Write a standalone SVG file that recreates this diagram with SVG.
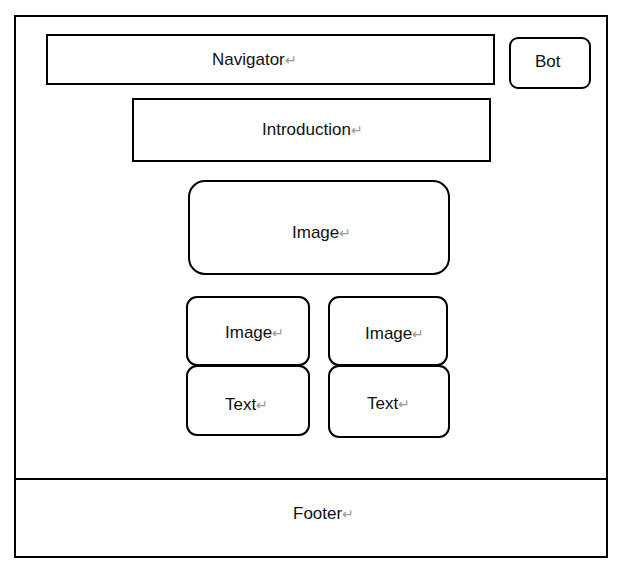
<svg xmlns="http://www.w3.org/2000/svg" width="626" height="570" viewBox="0 0 626 570">
<style>
.b{fill:#fff;stroke:#000;stroke-width:2}
.t{font-family:"Liberation Sans",Arial,sans-serif;font-size:17px;fill:#111}
.m{fill:#999;font-size:14px}
</style>
<rect width="626" height="570" fill="#fff"/>
<g id="frame"><rect class="b" x="15" y="16" width="592" height="541"/></g>
<g id="footer"><line x1="15" y1="479" x2="607" y2="479" stroke="#000" stroke-width="2"/><text class="t" x="293" y="519">Footer<tspan class="m">↵</tspan></text></g>
<g id="navigator"><rect class="b" x="47" y="35" width="447" height="49"/><text class="t" x="212" y="65">Navigator<tspan class="m">↵</tspan></text></g>
<g id="bot"><rect class="b" x="510" y="38" width="80" height="50" rx="8"/><text class="t" x="535" y="67">Bot</text></g>
<g id="introduction"><rect class="b" x="133" y="99" width="357" height="62"/><text class="t" x="262" y="135">Introduction<tspan class="m">↵</tspan></text></g>
<g id="image-main"><rect class="b" x="189" y="181" width="260" height="93" rx="16"/><text class="t" x="292" y="238">Image<tspan class="m">↵</tspan></text></g>
<g id="image-left"><rect class="b" x="187" y="297" width="122" height="68" rx="10"/><text class="t" x="225" y="338">Image<tspan class="m">↵</tspan></text></g>
<g id="text-left"><rect class="b" x="187" y="366" width="122" height="69" rx="10"/><text class="t" x="225" y="410">Text<tspan class="m">↵</tspan></text></g>
<g id="image-right"><rect class="b" x="329" y="297" width="118" height="68" rx="10"/><text class="t" x="365" y="339">Image<tspan class="m">↵</tspan></text></g>
<g id="text-right"><rect class="b" x="329" y="366" width="120" height="71" rx="10"/><text class="t" x="367" y="409">Text<tspan class="m">↵</tspan></text></g>
<g id="connectors"/>
</svg>
